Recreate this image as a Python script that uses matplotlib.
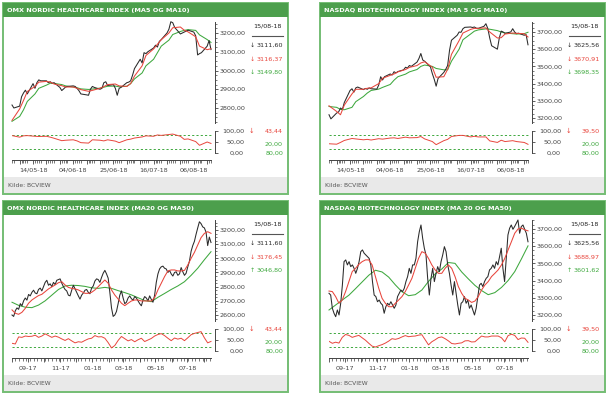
import matplotlib
matplotlib.use("Agg")
import matplotlib.pyplot as plt
import matplotlib.dates as mdates
from matplotlib.patches import Rectangle
from matplotlib.lines import Line2D
from matplotlib import font_manager
import numpy as np
import pandas as pd

# ------------------------------------------------------------------ data
titles = ["OMX NORDIC HEALTHCARE INDEX (MA5 OG MA10)",
          "NASDAQ BIOTECHNOLOGY INDEX (MA 5 OG MA10)",
          "OMX NORDIC HEALTHCARE INDEX (MA20 OG MA50)",
          "NASDAQ BIOTECHNOLOGY INDEX (MA 20 OG MA50)"]
last_date_label = "15/08-18"
source_label = "Kilde: BCVIEW"

top_dates = pd.bdate_range("2018-05-03", "2018-08-15")
bottom_start, bottom_end = "2017-08-01", "2018-08-15"
top_xlabels = ["14/05-18", "04/06-18", "25/06-18", "16/07-18", "06/08-18"]
bottom_xlabels = ["09-17", "11-17", "01-18", "03-18", "05-18", "07-18"]

tl_yticks = [2800, 2900, 3000, 3100, 3200]
tr_yticks = [3200, 3300, 3400, 3500, 3600, 3700]
bl_yticks = [2600, 2700, 2800, 2900, 3000, 3100, 3200]
br_yticks = [3200, 3300, 3400, 3500, 3600, 3700]
rsi_ticks = [0, 50, 100]
rsi_levels = [80, 20]

# top-left: OMX Nordic Healthcare, daily close, MA5, MA10 (every 2nd day), RSI
tl_close = [2816, 2800, 2810, 2860, 2880, 2895, 2875, 2930, 2905, 2935,
            2950, 2945, 2945, 2935, 2940, 2932, 2935, 2910, 2893, 2902,
            2912, 2915, 2918, 2915, 2905, 2892, 2875, 2870, 2868, 2900,
            2915, 2910, 2900, 2905, 2935, 2940, 2920, 2925, 2905, 2868,
            2905, 2910, 2935, 2938, 2945, 2975, 3010, 3060, 3040, 3095,
            3090, 3100, 3120, 3135, 3125, 3155, 3165, 3200, 3220, 3260,
            3255, 3230, 3195, 3200, 3205, 3210, 3215, 3205, 3185, 3083,
            3090, 3095, 3130, 3160, 3111.60]
tl_ma_s = [2734, 2795, 2840, 2888, 2915, 2938, 2942, 2938, 2928, 2919,
           2912, 2912, 2905, 2898, 2889, 2894, 2905, 2914, 2925, 2928,
           2918, 2915, 2930, 2970, 3025, 3080, 3115, 3140, 3164, 3200,
           3228, 3232, 3215, 3206, 3180, 3130, 3111, 3116.37]
tl_ma_l = [2729, 2755, 2790, 2835, 2875, 2905, 2922, 2932, 2931, 2925,
           2918, 2912, 2908, 2902, 2899, 2901, 2906, 2911, 2916, 2917,
           2913, 2916, 2930, 2955, 2987, 3025, 3060, 3095, 3130, 3162,
           3192, 3208, 3214, 3218, 3214, 3190, 3165, 3149.80]
tl_rsi = [79, 72, 78, 79, 76, 75, 76, 72, 67, 56,
          58, 60, 55, 47, 45, 60, 58, 55, 60, 54,
          47, 60, 63, 68, 73, 78, 76, 82, 80, 84,
          86, 76, 62, 64, 52, 35, 50, 43.44]

# top-right: Nasdaq Biotechnology
tr_close = [3219, 3195, 3229, 3235, 3258, 3250, 3290, 3360, 3370, 3350,
            3375, 3380, 3365, 3372, 3367, 3375, 3370, 3368, 3392, 3440,
            3421, 3440, 3456, 3450, 3469, 3462, 3470, 3480, 3495, 3490,
            3505, 3500, 3525, 3546, 3575, 3537, 3530, 3498, 3458, 3425,
            3385, 3430, 3465, 3483, 3505, 3594, 3652, 3681, 3700, 3698,
            3719, 3727, 3729, 3726, 3729, 3722, 3721, 3733, 3748, 3720,
            3665, 3620, 3600, 3665, 3705, 3700, 3692, 3700, 3719, 3700,
            3690, 3693, 3681, 3685, 3625.56]
tr_ma_s = [3271, 3238, 3219, 3275, 3340, 3367, 3367, 3373, 3375, 3400,
           3431, 3448, 3456, 3468, 3482, 3494, 3505, 3520, 3527, 3495,
           3437, 3440, 3483, 3570, 3650, 3694, 3715, 3721, 3721, 3724,
           3700, 3665, 3667, 3688, 3694, 3692, 3690, 3670.91]
tr_ma_l = [3267, 3262, 3250, 3248, 3262, 3295, 3325, 3345, 3360, 3368,
           3378, 3395, 3420, 3440, 3455, 3468, 3482, 3500, 3508, 3500,
           3488, 3480, 3480, 3530, 3600, 3655, 3688, 3705, 3712, 3718,
           3716, 3708, 3700, 3694, 3690, 3688, 3690, 3698.35]
tr_rsi = [42, 40, 48, 57, 66, 64, 60, 62, 59, 65,
          63, 68, 69, 66, 72, 69, 70, 75, 64, 52,
          38, 56, 62, 75, 80, 80, 73, 76, 73, 73,
          55, 48, 58, 52, 56, 52, 48, 39.50]

# bottom-left: OMX Nordic Healthcare, one year, MA20 / MA50
bl_close = [2600, 2590, 2630, 2650, 2640, 2680, 2665, 2700, 2720, 2705,
            2745, 2735, 2760, 2775, 2755, 2750, 2780, 2790, 2770, 2800,
            2830, 2845, 2810, 2820, 2800, 2830, 2815, 2845, 2850, 2855,
            2825, 2800, 2780, 2770, 2740, 2735, 2775, 2810, 2785, 2760,
            2735, 2712, 2740, 2755, 2775, 2780, 2760, 2750, 2790, 2805,
            2840, 2855, 2850, 2830, 2865, 2895, 2915, 2890, 2860, 2760,
            2650, 2590, 2600, 2625, 2680, 2740, 2770, 2720, 2680, 2690,
            2720, 2735, 2715, 2705, 2730, 2720, 2700, 2680, 2665, 2705,
            2730, 2720, 2700, 2735, 2710, 2690, 2740, 2830, 2890, 2925,
            2940, 2945, 2930, 2925, 2900, 2915, 2890, 2875, 2900, 2905,
            2880, 2890, 2935, 2905, 2880, 2895, 2940, 2980, 3050, 3090,
            3120, 3170, 3215, 3258, 3245, 3222, 3215, 3185, 3090, 3150,
            3111.60]
bl_ma_s = [2636, 2612, 2605, 2619, 2647, 2683, 2706, 2722, 2737, 2746,
           2765, 2784, 2798, 2812, 2828, 2835, 2812, 2795, 2788, 2784,
           2777, 2765, 2753, 2753, 2760, 2777, 2800, 2824, 2847, 2824,
           2777, 2741, 2713, 2683, 2666, 2683, 2699, 2706, 2706, 2699,
           2699, 2699, 2699, 2722, 2777, 2824, 2871, 2911, 2918, 2918,
           2911, 2911, 2915, 2953, 3000, 3042, 3094, 3146, 3176, 3188,
           3176.45]
bl_ma_l = [2690, 2668, 2655, 2652, 2670, 2700, 2740, 2780, 2805, 2810,
           2808, 2802, 2792, 2788, 2795, 2788, 2772, 2758, 2742, 2722,
           2702, 2694, 2725, 2752, 2780, 2805, 2835, 2880, 2930, 2990,
           3046.80]
bl_rsi = [35, 32, 64, 62, 68, 66, 67, 72, 62, 68,
          78, 70, 62, 68, 63, 55, 48, 56, 46, 37,
          42, 40, 48, 55, 58, 70, 64, 65, 58, 38,
          14, 25, 48, 66, 56, 46, 52, 42, 51, 58,
          43, 50, 57, 68, 75, 79, 70, 58, 47, 59,
          54, 58, 47, 60, 74, 80, 84, 88, 60, 37,
          43.44]

# bottom-right: Nasdaq Biotechnology, one year
br_close = [3326, 3316, 3239, 3210, 3190, 3229, 3200, 3268, 3374, 3510,
            3520, 3491, 3510, 3481, 3491, 3471, 3442, 3471, 3510, 3568,
            3578, 3559, 3549, 3539, 3529, 3491, 3394, 3316, 3307, 3277,
            3287, 3268, 3258, 3210, 3248, 3268, 3258, 3277, 3258, 3239,
            3258, 3307, 3326, 3345, 3336, 3355, 3394, 3423, 3471, 3442,
            3491, 3491, 3529, 3626, 3684, 3723, 3646, 3588, 3549, 3413,
            3316, 3413, 3471, 3394, 3442, 3481, 3452, 3510, 3549, 3597,
            3568, 3491, 3442, 3374, 3316, 3394, 3326, 3258, 3200, 3268,
            3277, 3307, 3268, 3287, 3239, 3258, 3229, 3200, 3239, 3307,
            3374, 3384, 3365, 3394, 3413, 3423, 3462, 3471, 3491, 3471,
            3510, 3491, 3539, 3588, 3471, 3394, 3529, 3665, 3704, 3723,
            3698, 3714, 3733, 3752, 3675, 3714, 3723, 3698, 3675, 3625.56]
br_ma_s = [3339, 3336, 3307, 3268, 3287, 3336, 3394, 3452, 3471, 3494,
           3510, 3520, 3520, 3491, 3423, 3355, 3297, 3268, 3248, 3248,
           3268, 3287, 3307, 3336, 3374, 3413, 3471, 3529, 3568, 3559,
           3529, 3491, 3462, 3442, 3442, 3471, 3491, 3471, 3423, 3365,
           3326, 3297, 3287, 3273, 3281, 3307, 3345, 3374, 3394, 3423,
           3442, 3462, 3491, 3529, 3578, 3626, 3675, 3700, 3705, 3695,
           3688.97]
br_ma_l = [3229, 3258, 3287, 3315, 3353, 3392, 3431, 3460, 3450, 3420,
           3375, 3335, 3312, 3318, 3345, 3395, 3438, 3467, 3505, 3500,
           3450, 3410, 3372, 3342, 3318, 3330, 3360, 3400, 3452, 3525,
           3601.62]
br_rsi = [44, 35, 40, 36, 62, 75, 71, 62, 67, 71,
          60, 49, 35, 22, 18, 24, 29, 36, 45, 56,
          53, 57, 64, 70, 65, 67, 68, 72, 74, 51,
          28, 42, 51, 61, 64, 56, 46, 34, 32, 35,
          37, 46, 47, 41, 42, 55, 68, 64, 64, 68,
          68, 68, 60, 42, 70, 76, 71, 52, 59, 58,
          39.50]

# ------------------------------------------------------------------ style
W, H = 611, 398
names = {f.name for f in font_manager.fontManager.ttflist}
NARROW = "Liberation Sans Narrow" if "Liberation Sans Narrow" in names else "DejaVu Sans"
SC = 1.0 if NARROW != "DejaVu Sans" else 0.78
plt.rcParams["font.family"] = [NARROW, "DejaVu Sans"]

BLACK = "#2a2a2a"
RED = "#e8453c"
GREEN = "#3ea83e"
FRAME = "#74bd74"
TITLEBG = "#4c9f4c"
FOOT = "#e9e9e9"
AXC = "#444444"
FS = 5.9 * SC


def fmt(v):
    return f"{v:.2f}".replace(".", ",")


fig = plt.figure(figsize=(W / 100, H / 100), dpi=100)
fig.patch.set_facecolor("white")


def fx(x):
    return x / W


def fy(y):
    return 1 - y / H


def panel(ox, oy, title, cdates, close, sdates, ma_s, ldates, ma_l, rdates, rsi,
          yticks, ylim, xlim, major, minor, labdates, labtexts, green_up):
    x0n = mdates.date2num(xlim[0])
    x1n = mdates.date2num(xlim[1])
    xen = mdates.date2num(cdates[-1])
    # frame, title bar, footer
    fig.patches.append(Rectangle((fx(ox + 3), fy(oy + 194)), 285 / W, 191 / H,
                                 transform=fig.transFigure, fill=False,
                                 ec=FRAME, lw=1.4, zorder=0))
    fig.patches.append(Rectangle((fx(ox + 3), fy(oy + 17)), 285 / W, 14 / H,
                                 transform=fig.transFigure, fc=TITLEBG,
                                 ec="none", zorder=0))
    fig.patches.append(Rectangle((fx(ox + 4), fy(oy + 193)), 283 / W, 16 / H,
                                 transform=fig.transFigure, fc=FOOT,
                                 ec="none", zorder=0))
    fig.text(fx(ox + 7), fy(oy + 10.5), title, color="white", fontsize=6.0 * SC,
             fontweight="bold", va="center", ha="left")
    fig.text(fx(ox + 8), fy(oy + 185.5), source_label, color="#555555",
             fontsize=5.6 * SC, va="center", ha="left")

    # price axes
    ax = fig.add_axes([fx(ox + 12), fy(oy + 123), 203 / W, 101 / H])
    ax.patch.set_alpha(0)
    ax.plot(cdates, close, color=BLACK, lw=0.75, clip_on=False, zorder=3)
    ax.plot(sdates, ma_s, color=RED, lw=0.75, clip_on=False, zorder=4)
    ax.plot(ldates, ma_l, color=GREEN, lw=0.75, clip_on=False, zorder=2)
    ax.set_xlim(x0n, x1n)
    ax.set_ylim(ylim)
    for s in ["top", "left", "bottom"]:
        ax.spines[s].set_visible(False)
    ax.spines["right"].set_color(AXC)
    ax.spines["right"].set_linewidth(0.7)
    ax.yaxis.tick_right()
    ax.set_yticks(yticks)
    ax.set_yticklabels([fmt(v) for v in yticks])
    ax.set_yticks([v for v in np.arange(yticks[0] - 100, yticks[-1] + 101, 25)
                   if ylim[0] <= v <= ylim[1]], minor=True)
    ax.tick_params(axis="y", which="major", direction="out", length=2.3,
                   width=0.6, pad=0.8, labelsize=FS, colors=AXC)
    ax.tick_params(axis="y", which="minor", direction="out", length=1.2,
                   width=0.5, colors=AXC)
    ax.set_xticks([])

    # RSI axes
    rx = fig.add_axes([fx(ox + 12), fy(oy + 160), 203 / W, 32 / H])
    rx.patch.set_alpha(0)
    rx.plot(rdates, rsi, color=RED, lw=0.7, zorder=3)
    rx.hlines(rsi_levels, x0n, xen, colors=GREEN,
              linestyles=(0, (2.2, 2.2)), lw=0.7)
    rx.set_xlim(x0n, x1n)
    rx.set_ylim(-31.8, 113.6)
    for s in ["top", "left"]:
        rx.spines[s].set_visible(False)
    rx.spines["right"].set_bounds(0, 100)
    rx.spines["bottom"].set_bounds(x0n, xen)
    for s in ["right", "bottom"]:
        rx.spines[s].set_color(AXC)
        rx.spines[s].set_linewidth(0.7)
    rx.yaxis.tick_right()
    rx.set_yticks(rsi_ticks)
    rx.set_yticklabels([fmt(v) for v in rsi_ticks])
    for lbl in rx.get_yticklabels():
        lbl.set_horizontalalignment("right")
    rx.tick_params(axis="y", direction="out", length=2.3, width=0.6, pad=18.6,
                   labelsize=FS, colors=AXC)
    lab = {pd.Timestamp(d): t for d, t in zip(labdates, labtexts)}
    rx.set_xticks(mdates.date2num(major))
    rx.set_xticklabels([lab.get(pd.Timestamp(d), "") for d in major])
    rx.set_xticks(mdates.date2num(minor), minor=True)
    rx.tick_params(axis="x", which="major", direction="out", length=3.0,
                   width=0.6, pad=2.6, labelsize=FS, colors=AXC)
    rx.tick_params(axis="x", which="minor", direction="out", length=1.8,
                   width=0.5, colors=AXC)

    # right-hand value box
    fig.text(fx(ox + 267.5), fy(oy + 26), last_date_label, fontsize=FS,
             color="#222222", ha="center", va="center")
    fig.add_artist(Line2D([fx(ox + 252), fx(ox + 283)], [fy(oy + 36), fy(oy + 36)],
                          transform=fig.transFigure, color="#555555", lw=0.8))
    rows = [(close[-1], BLACK, "\u2193", 45.5),
            (ma_s[-1], RED, "\u2193", 59),
            (ma_l[-1], GREEN, "\u2191" if green_up else "\u2193", 72)]
    for val, col, arr, yy in rows:
        fig.text(fx(ox + 255.3), fy(oy + yy), arr, fontsize=4.4, color=col,
                 ha="right", va="center", family=["DejaVu Sans"])
        fig.text(fx(ox + 256.5), fy(oy + yy), fmt(val), fontsize=FS, color=col,
                 ha="left", va="center")
    fig.text(fx(ox + 254), fy(oy + 131), "\u2193", fontsize=4.8, color=RED,
             ha="right", va="center", family=["DejaVu Sans"])
    fig.text(fx(ox + 283), fy(oy + 131), fmt(rsi[-1]), fontsize=FS, color=RED,
             ha="right", va="center")
    fig.text(fx(ox + 283), fy(oy + 144), fmt(rsi_levels[1]), fontsize=FS,
             color=GREEN, ha="right", va="center")
    fig.text(fx(ox + 283), fy(oy + 153), fmt(rsi_levels[0]), fontsize=FS,
             color=GREEN, ha="right", va="center")


# ---- top panels (about three months, trading days)
t_sub = top_dates[::2]
t_d0, t_d1 = top_dates[0], top_dates[-1]
t_xlim = (t_d0, t_d1 + (t_d1 - t_d0) * 4 / 199)
t_major = list(pd.date_range(t_d0, t_d1, freq="W-MON"))
t_minor = list(top_dates)
t_labdates = [pd.to_datetime(s, format="%d/%m-%y") for s in top_xlabels]

# ---- bottom panels (one year)
b_d0, b_d1 = pd.Timestamp(bottom_start), pd.Timestamp(bottom_end)
b_xlim = (b_d0, b_d1 + (b_d1 - b_d0) * 4 / 199)
b_major = list(pd.date_range(b_d0, b_d1, freq="MS"))
b_minor = list(pd.date_range(b_d0, b_d1, freq="W-MON"))
b_labdates = [pd.to_datetime(s, format="%m-%y") for s in bottom_xlabels]


def bdates(n):
    return pd.date_range(b_d0, b_d1, periods=n)


panel(0, 0, titles[0], top_dates, tl_close, t_sub, tl_ma_s, t_sub, tl_ma_l,
      t_sub, tl_rsi, tl_yticks, (2720, 3258.7), t_xlim, t_major, t_minor,
      t_labdates, top_xlabels, False)
panel(317, 0, titles[1], top_dates, tr_close, t_sub, tr_ma_s, t_sub, tr_ma_l,
      t_sub, tr_rsi, tr_yticks, (3171, 3758), t_xlim, t_major, t_minor,
      t_labdates, top_xlabels, False)
panel(0, 198, titles[2], bdates(len(bl_close)), bl_close, bdates(len(bl_ma_s)),
      bl_ma_s, bdates(len(bl_ma_l)), bl_ma_l, bdates(len(bl_rsi)), bl_rsi,
      bl_yticks, (2557.6, 3270.6), b_xlim, b_major, b_minor, b_labdates,
      bottom_xlabels, True)
panel(317, 198, titles[3], bdates(len(br_close)), br_close, bdates(len(br_ma_s)),
      br_ma_s, bdates(len(br_ma_l)), br_ma_l, bdates(len(br_rsi)), br_rsi,
      br_yticks, (3165, 3752), b_xlim, b_major, b_minor, b_labdates,
      bottom_xlabels, True)

fig.savefig("out.png", dpi=100, facecolor="white")
